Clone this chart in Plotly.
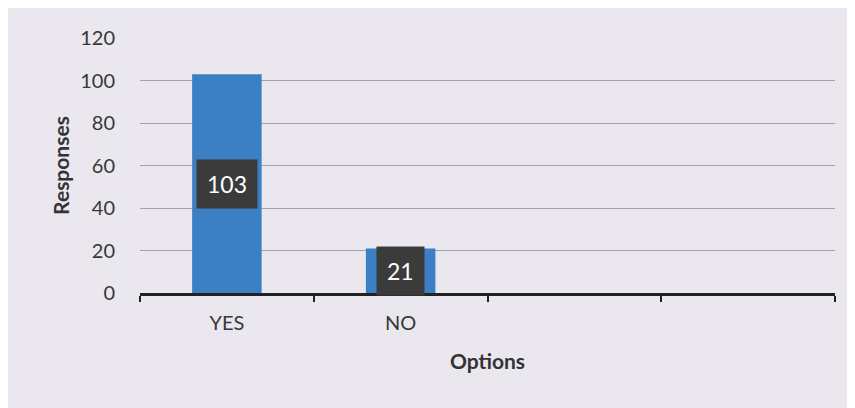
import plotly.graph_objects as go

categories = ["YES", "NO", " ", "  "]
responses = [103, 21, None, None]
y_ticks = [0, 20, 40, 60, 80, 100, 120]

bar_color = "#3b7fc5"
bg = "#eae7ee"
text_color = "#383838"
font_family = "Lato, 'Open Sans', sans-serif"

fig = go.Figure()
fig.add_trace(go.Bar(
    x=categories, y=responses, marker=dict(color=bar_color, line=dict(width=0)),
    width=0.4, hoverinfo="skip", showlegend=False,
))

for c, v in zip(categories, responses):
    if v is None:
        continue
    fig.add_annotation(
        x=c, y=v / 2, text=str(v), showarrow=False,
        font=dict(family=font_family, size=23, color="white"),
        bgcolor="#3b3b3b", borderpad=10, xanchor="center", yanchor="middle",
    )

fig.update_layout(
    width=847, height=400,
    margin=dict(l=132, r=20, t=30, b=115),
    paper_bgcolor=bg, plot_bgcolor=bg,
    font=dict(family=font_family, size=20, color=text_color),
    bargap=0.6,
)
fig.update_xaxes(
    type="category", categoryorder="array", categoryarray=categories,
    tickson="boundaries", ticks="outside", ticklen=6, tickwidth=2, tickcolor="#222222",
    showline=True, linecolor="#222222", linewidth=2.5, showgrid=False,
    tickfont=dict(size=20, color=text_color), ticklabelstandoff=10,
    title=dict(text="<b>Options</b>", font=dict(size=21, color="#333333"), standoff=22),
)
fig.update_yaxes(
    range=[0, 120], tickvals=y_ticks, showgrid=True, gridcolor="#a4a2a8", gridwidth=1,
    zeroline=False, showline=False, ticks="outside", ticklen=20, tickcolor="rgba(0,0,0,0)",
    tickfont=dict(size=20, color=text_color),
    title=dict(text="<b>Responses</b>", font=dict(size=21, color="#333333"), standoff=4),
)

fig.write_html("out.html")
